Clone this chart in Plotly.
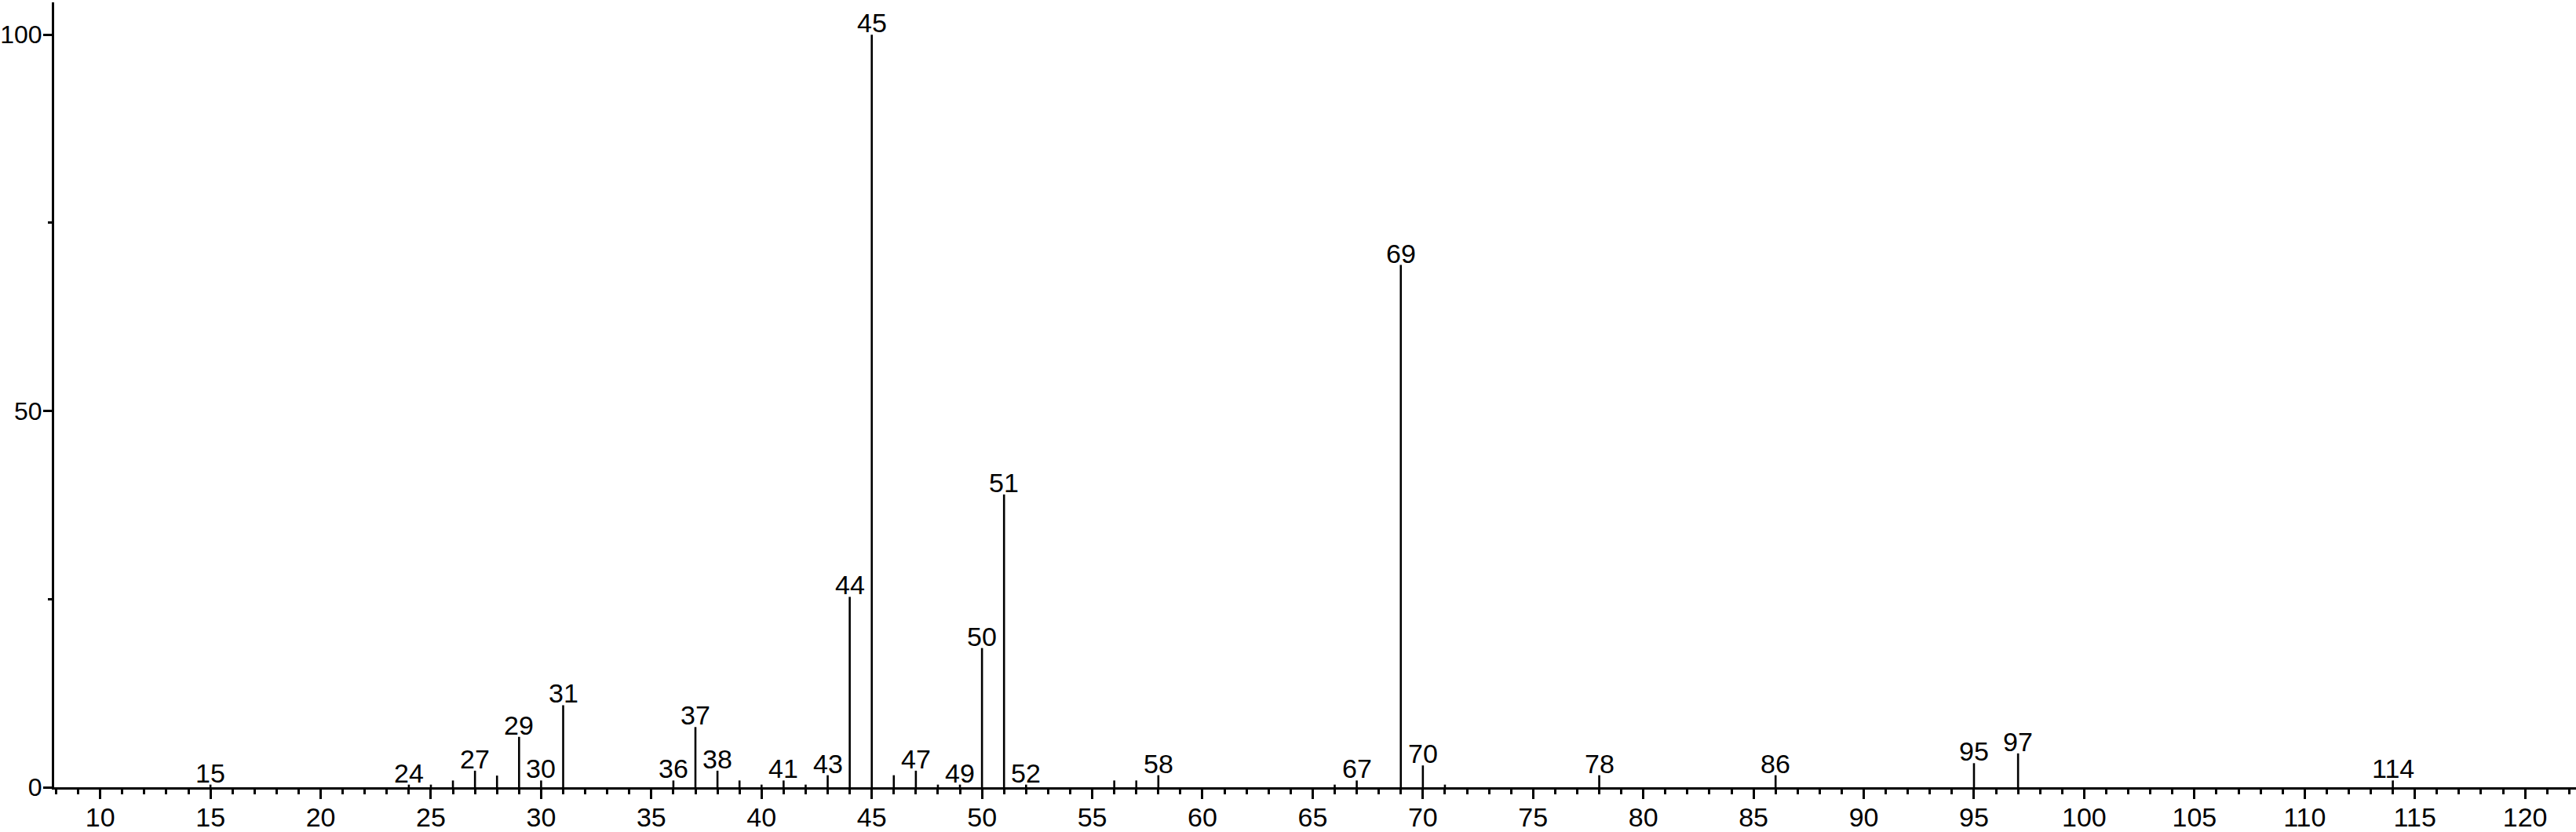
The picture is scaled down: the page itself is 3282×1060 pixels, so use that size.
import plotly.graph_objects as go

# m/z values and relative intensities
mz = [15, 24, 25, 26, 27, 28, 29, 30, 31, 36, 37, 38, 39, 40, 41, 42, 43, 44, 45, 46,
      47, 48, 49, 50, 51, 52, 56, 57, 58, 66, 67, 69, 70, 71, 78, 86, 95, 97, 114]
intensity = [0.35, 0.35, 0.35, 0.9, 2.2, 1.55, 6.7, 0.9, 10.9, 0.9, 8.0, 2.2, 0.9, 0.35, 0.9,
             0.35, 1.6, 25.3, 100, 1.6, 2.2, 0.35, 0.35, 18.5, 38.9, 0.35, 0.9, 0.9, 1.6,
             0.35, 0.9, 69.4, 2.9, 0.35, 1.6, 1.6, 3.2, 4.5, 0.9]
labeled = [15, 24, 27, 29, 30, 31, 36, 37, 38, 41, 43, 44, 45, 47, 49, 50, 51, 52,
           58, 67, 69, 70, 78, 86, 95, 97, 114]
x_ticks = list(range(10, 121, 5))
y_ticks = [0, 50, 100]

xs, ys = [], []
for m, h in zip(mz, intensity):
    xs += [m, m, None]
    ys += [0, h, None]

fig = go.Figure()
fig.add_trace(go.Scatter(x=xs, y=ys, mode="lines",
                         line=dict(color="black", width=2.6),
                         hoverinfo="skip", showlegend=False))

font = dict(family="Liberation Sans, Arial, sans-serif", size=34, color="black")
yfont = dict(family="Liberation Sans, Arial, sans-serif", size=32, color="black")
lookup = dict(zip(mz, intensity))
for m in labeled:
    fig.add_annotation(x=m, y=lookup[m], text=str(m), showarrow=False,
                       xanchor="center", yanchor="bottom", yshift=-5,
                       font=font, bgcolor="rgba(255,255,255,0)", borderpad=0)

fig.update_layout(
    width=3282, height=1060,
    margin=dict(l=69, r=0, t=3, b=57, autoexpand=False),
    paper_bgcolor="white", plot_bgcolor="white",
    showlegend=False,
    xaxis=dict(range=[7.91, 122.31], tickvals=x_ticks,
               ticktext=[str(v) for v in x_ticks], automargin=False,
               showgrid=False, zeroline=False, showline=True,
               linecolor="black", linewidth=3,
               ticks="outside", ticklen=12, tickwidth=3, tickcolor="black",
               tickfont=font, ticklabelstandoff=-6,
               minor=dict(dtick=1, tick0=0, ticks="outside", ticklen=6,
                          tickwidth=2.5, tickcolor="black", showgrid=False)),
    yaxis=dict(range=[0, 104.3], tickvals=y_ticks,
               ticktext=[str(v) for v in y_ticks], automargin=False,
               showgrid=False, zeroline=False, showline=True,
               linecolor="black", linewidth=3,
               ticks="outside", ticklen=11, tickwidth=3, tickcolor="black",
               tickfont=yfont, ticklabelstandoff=-5,
               minor=dict(dtick=25, tick0=0, ticks="outside", ticklen=5,
                          tickwidth=2.5, tickcolor="black", showgrid=False)),
)

fig.write_html("out.html", config={"displayModeBar": False},
               post_script="document.body.style.margin='0';document.body.style.overflow='hidden';")
